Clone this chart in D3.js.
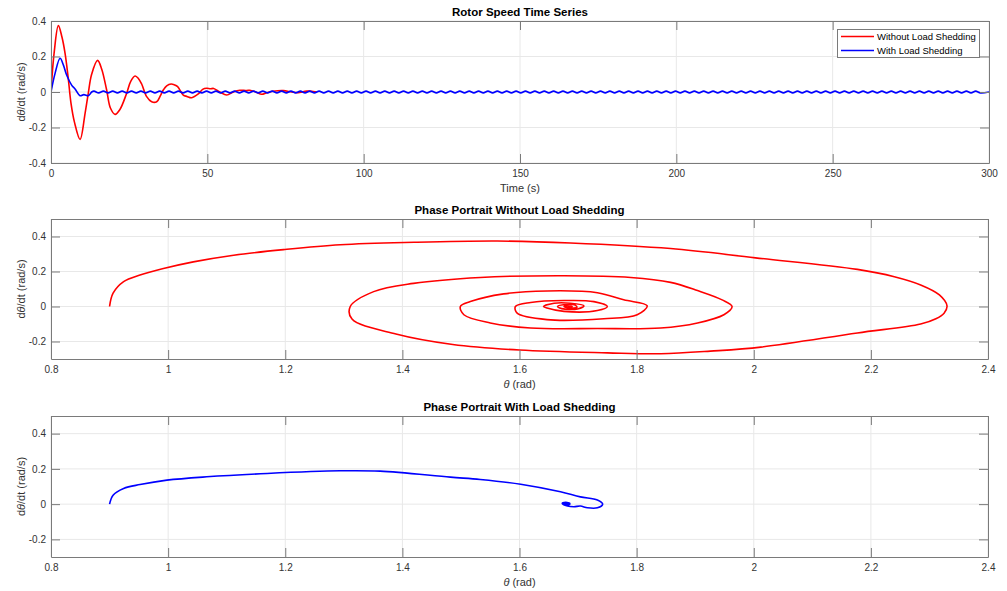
<!DOCTYPE html>
<html>
<head>
<meta charset="utf-8">
<script src="https://cdn.jsdelivr.net/npm/d3@7"></script>
<style>
  body { margin: 0; background: #fff; }
  text { font-family: "Liberation Sans", Arial, sans-serif; }
</style>
</head>
<body>
<script>
// ---- data ----

// rotor speed, without load shedding (red)
var timeRed  = [0, 1, 2.35, 3.5, 4.5, 5.5, 6.4, 7.5, 9.3, 10.9, 11.9, 13, 14.9, 16.2, 17.8, 19, 20.5, 22, 24.2, 25.5,
  26.9, 28, 29, 30.6, 32.2, 33.8, 35, 35.9, 37, 38.4, 39.5, 40.5, 42.3, 43.5, 45, 47.1, 48.5, 49.8, 51, 52,
  54, 56.2, 58.3, 60.4, 62.5, 63.6, 65.5, 67.4, 69, 71, 74.3, 77, 79, 81.8, 85];
var speedRed = [0, 0.22, 0.374, 0.31, 0.218, 0.08, -0.064, -0.17, -0.267, -0.12, -0.01, 0.1, 0.178, 0.13, 0.011, -0.09, -0.126, -0.1, -0.007, 0.06,
  0.09, 0.075, 0.045, -0.026, -0.055, -0.055, -0.02, 0.011, 0.035, 0.045, 0.04, 0.03, -0.017, -0.025, -0.032, -0.011, 0.015, 0.021, 0.018, 0.02,
  0, -0.017, 0, 0.01, 0.008, 0.01, 0, -0.013, -0.004, 0.004, 0.008, 0, -0.004, 0.005, 0];

// rotor speed, with load shedding (blue): transient, then a steady ripple
var timeBlue  = [0, 1.3, 2.9, 4, 5, 6.6, 7.7, 9.3, 10.5, 12, 13];
var speedBlue = [0, 0.105, 0.19, 0.15, 0.096, 0.039, 0.017, -0.021, -0.015, -0.02, 0];
var rippleStart = 13.75, rippleStep = 1.5;
var rippleBlue = [
  0.005,-0.005,0.005,-0.005,0.005,-0.005,0.005,-0.005,0.005,-0.005,
  0.005,-0.005,0.005,-0.005,0.005,-0.005,0.005,-0.005,0.005,-0.005,
  0.005,-0.005,0.005,-0.005,0.005,-0.005,0.005,-0.005,0.005,-0.005,
  0.005,-0.005,0.005,-0.005,0.005,-0.005,0.005,-0.005,0.005,-0.005,
  0.005,-0.005,0.005,-0.005,0.005,-0.005,0.005,-0.005,0.005,-0.005,
  0.005,-0.005,0.005,-0.005,0.005,-0.005,0.005,-0.005,0.005,-0.005,
  0.005,-0.005,0.005,-0.005,0.005,-0.005,0.005,-0.005,0.005,-0.005,
  0.005,-0.005,0.005,-0.005,0.005,-0.005,0.005,-0.005,0.005,-0.005,
  0.005,-0.005,0.005,-0.005,0.005,-0.005,0.005,-0.005,0.005,-0.005,
  0.005,-0.005,0.005,-0.005,0.005,-0.005,0.005,-0.005,0.005,-0.005,
  0.005,-0.005,0.005,-0.005,0.005,-0.005,0.005,-0.005,0.005,-0.005,
  0.005,-0.005,0.005,-0.005,0.005,-0.005,0.005,-0.005,0.005,-0.005,
  0.005,-0.005,0.005,-0.005,0.005,-0.005,0.005,-0.005,0.005,-0.005,
  0.005,-0.005,0.005,-0.005,0.005,-0.005,0.005,-0.005,0.005,-0.005,
  0.005,-0.005,0.005,-0.005,0.005,-0.005,0.005,-0.005,0.005,-0.005,
  0.005,-0.005,0.005,-0.005,0.005,-0.005,0.005,-0.005,0.005,-0.005,
  0.005,-0.005,0.005,-0.005,0.005,-0.005,0.005,-0.005,0.005,-0.005,
  0.005,-0.005,0.005,-0.005,0.005,-0.005,0.005,-0.005,0.005,-0.005,
  0.005,-0.005,0.005,-0.005,0.005,-0.005,0.005,-0.005,0.005,-0.005];
var timeEnd = 300;

// phase portrait without load shedding (red spiral)
var thetaRed = [0.9, 0.906, 0.924, 0.952, 0.992, 1.043, 1.112, 1.197, 1.294, 1.42, 1.562, 1.687, 1.858, 2.003, 2.177, 2.24, 2.285, 2.317, 2.33,
  2.325, 2.311, 2.285, 2.177, 2.012, 1.926, 1.841, 1.75, 1.6, 1.486, 1.389, 1.314, 1.311,
  1.351, 1.419, 1.533, 1.676, 1.79, 1.858, 1.904, 1.946, 1.963, 1.949, 1.904, 1.841, 1.733, 1.619, 1.55, 1.505, 1.499,
  1.516, 1.573, 1.647, 1.733, 1.778, 1.818, 1.801, 1.744, 1.647, 1.596, 1.593,
  1.619, 1.676, 1.727, 1.75, 1.733, 1.676, 1.647, 1.641,
  1.659, 1.687, 1.71, 1.699, 1.672, 1.665, 1.675, 1.695, 1.698, 1.684, 1.676, 1.684, 1.69, 1.684, 1.682];
var omegaRed = [0, 0.076, 0.142, 0.18, 0.217, 0.255, 0.293, 0.325, 0.353, 0.367, 0.374, 0.363, 0.331, 0.278, 0.212, 0.17, 0.123, 0.066, 0.004,
  -0.038, -0.07, -0.1, -0.151, -0.232, -0.255, -0.27, -0.265, -0.249, -0.217, -0.157, -0.072, 0,
  0.085, 0.132, 0.166, 0.176, 0.166, 0.138, 0.091, 0.038, 0, -0.047, -0.094, -0.123, -0.126, -0.123, -0.094, -0.047, 0,
  0.028, 0.072, 0.089, 0.079, 0.038, 0.004, -0.047, -0.07, -0.075, -0.038, 0,
  0.023, 0.034, 0.028, 0, -0.023, -0.028, -0.009, 0,
  0.019, 0.019, 0.004, -0.014, -0.012, 0, 0.01, 0.008, -0.005, -0.008, 0, 0.005, 0, -0.003, 0];

// phase portrait with load shedding (blue)
var thetaBlue = [0.9, 0.906, 0.924, 0.952, 0.998, 1.066, 1.169, 1.294, 1.362, 1.482, 1.533, 1.602, 1.67, 1.704, 1.733, 1.742,
  1.733, 1.716, 1.704, 1.693, 1.682, 1.673, 1.679, 1.686, 1.68, 1.674, 1.68, 1.686, 1.68, 1.675];
var omegaBlue = [0, 0.051, 0.089, 0.111, 0.136, 0.155, 0.174, 0.189, 0.187, 0.153, 0.14, 0.113, 0.07, 0.041, 0.023, 0,
  -0.021, -0.021, -0.011, -0.015, -0.011, 0.004, 0.01, 0.004, -0.004, 0, 0.005, 0, -0.005, 0];

var timeTicks  = [0, 50, 100, 150, 200, 250, 300];
var speedTicks = [-0.4, -0.2, 0, 0.2, 0.4];
var thetaTicks = [0.8, 1, 1.2, 1.4, 1.6, 1.8, 2, 2.2, 2.4];
var omegaTicks = [-0.2, 0, 0.2, 0.4];
var legendNames = ['Without Load Shedding', 'With Load Shedding'];

// ---- drawing ----
var RED = '#ff0000', BLUE = '#0000ff';
var axisColor = '#7a7a7a', textColor = '#333333';
var fmt = function(d) { return String(+d.toFixed(1)); };

var svg = d3.select('body').append('svg')
  .attr('width', 1007)
  .attr('height', 591);

var clipId = 0;

function panel(o) {
  var x = d3.scaleLinear().domain(o.xDomain).range([o.left, o.right]);
  var y = d3.scaleLinear().domain(o.yDomain).range([o.bottom, o.top]);
  var g = svg.append('g');

  // grid
  g.selectAll('line.gx').data(o.xTicks).enter().append('line')
    .attr('x1', function(d) { return x(d); }).attr('x2', function(d) { return x(d); })
    .attr('y1', o.top).attr('y2', o.bottom)
    .attr('stroke', '#e8e8e8');
  g.selectAll('line.gy').data(o.yTicks).enter().append('line')
    .attr('y1', function(d) { return y(d); }).attr('y2', function(d) { return y(d); })
    .attr('x1', o.left).attr('x2', o.right)
    .attr('stroke', '#e8e8e8');

  // data lines, clipped to the box
  clipId++;
  svg.append('clipPath').attr('id', 'clip' + clipId)
    .append('rect').attr('x', o.left).attr('y', o.top)
    .attr('width', o.right - o.left).attr('height', o.bottom - o.top);
  var line = d3.line()
    .x(function(d) { return x(d[0]); })
    .y(function(d) { return y(d[1]); })
    .curve(d3.curveCatmullRom.alpha(0.5));
  o.series.forEach(function(s) {
    g.append('path')
      .datum(s.points)
      .attr('clip-path', 'url(#clip' + clipId + ')')
      .attr('fill', 'none')
      .attr('stroke', s.color)
      .attr('stroke-width', 1.6)
      .attr('stroke-linejoin', 'round')
      .attr('d', line);
  });

  // axes with inward ticks on all four sides
  var tick = 9;
  var styleAxis = function(sel) {
    sel.selectAll('path, line').attr('stroke', axisColor);
    sel.selectAll('text').attr('fill', textColor).style('font-size', '10px')
      .style('font-family', '"Liberation Sans", Arial, sans-serif');
  };
  g.append('g').attr('transform', 'translate(0,' + o.bottom + ')')
    .call(d3.axisBottom(x).tickValues(o.xTicks).tickFormat(fmt).tickSize(-tick).tickSizeOuter(0).tickPadding(7))
    .call(styleAxis);
  g.append('g').attr('transform', 'translate(0,' + o.top + ')')
    .call(d3.axisTop(x).tickValues(o.xTicks).tickFormat('').tickSize(-tick).tickSizeOuter(0))
    .call(styleAxis);
  g.append('g').attr('transform', 'translate(' + o.left + ',0)')
    .call(d3.axisLeft(y).tickValues(o.yTicks).tickFormat(fmt).tickSize(-tick).tickSizeOuter(0).tickPadding(5))
    .call(styleAxis);
  g.append('g').attr('transform', 'translate(' + o.right + ',0)')
    .call(d3.axisRight(y).tickValues(o.yTicks).tickFormat('').tickSize(-tick).tickSizeOuter(0))
    .call(styleAxis);
  g.selectAll('.domain').attr('stroke', axisColor);

  // title
  g.append('text')
    .attr('x', (o.left + o.right) / 2).attr('y', o.top - 5)
    .attr('text-anchor', 'middle')
    .attr('font-weight', 'bold').attr('font-size', '11.5px')
    .attr('fill', '#000')
    .text(o.title);

  // x label
  var xl = g.append('text')
    .attr('x', (o.left + o.right) / 2).attr('y', o.bottom + 29)
    .attr('text-anchor', 'middle').attr('font-size', '11px')
    .attr('fill', textColor);
  if (o.xLabelTheta) {
    xl.append('tspan').attr('font-style', 'italic').text('θ');
    xl.append('tspan').text(' (rad)');
  } else {
    xl.text(o.xLabel);
  }

  // y label
  var ymid = (o.top + o.bottom) / 2;
  var yl = g.append('text')
    .attr('transform', 'translate(25,' + ymid + ') rotate(-90)')
    .attr('text-anchor', 'middle').attr('font-size', '11px')
    .attr('fill', textColor);
  yl.append('tspan').text('d');
  yl.append('tspan').attr('font-style', 'italic').text('θ');
  yl.append('tspan').text('/dt (rad/s)');

  return g;
}

function zip(a, b) { return a.map(function(v, i) { return [v, b[i]]; }); }

var redTime = zip(timeRed, speedRed);
var blueTime = zip(timeBlue, speedBlue)
  .concat(rippleBlue.map(function(v, i) { return [rippleStart + i * rippleStep, v]; }))
  .concat([[timeEnd, 0]]);

var speedPanel = panel({
  left: 51, right: 989, top: 21, bottom: 163,
  xDomain: [0, 300], yDomain: [-0.4, 0.4],
  xTicks: timeTicks, yTicks: speedTicks,
  title: 'Rotor Speed Time Series', xLabel: 'Time (s)',
  series: [{ points: redTime, color: RED }, { points: blueTime, color: BLUE }]
});

// legend
var lg = speedPanel.append('g');
lg.append('rect')
  .attr('x', 837.5).attr('y', 29.5).attr('width', 142).attr('height', 28)
  .attr('fill', '#fff').attr('stroke', axisColor);
[RED, BLUE].forEach(function(c, i) {
  var yy = 36.5 + i * 14;
  lg.append('line').attr('x1', 841).attr('x2', 874).attr('y1', yy).attr('y2', yy)
    .attr('stroke', c).attr('stroke-width', 1.6);
  lg.append('text').attr('x', 877).attr('y', yy + 3.5)
    .attr('font-size', '9.5px').attr('fill', '#000')
    .text(legendNames[i]);
});

panel({
  left: 51, right: 988, top: 219, bottom: 359,
  xDomain: [0.8, 2.4], yDomain: [-0.3, 0.5],
  xTicks: thetaTicks, yTicks: omegaTicks,
  title: 'Phase Portrait Without Load Shedding', xLabelTheta: true,
  series: [{ points: zip(thetaRed, omegaRed), color: RED }]
});

panel({
  left: 51, right: 988, top: 416, bottom: 557,
  xDomain: [0.8, 2.4], yDomain: [-0.3, 0.5],
  xTicks: thetaTicks, yTicks: omegaTicks,
  title: 'Phase Portrait With Load Shedding', xLabelTheta: true,
  series: [{ points: zip(thetaBlue, omegaBlue), color: BLUE }]
});
</script>
</body>
</html>
